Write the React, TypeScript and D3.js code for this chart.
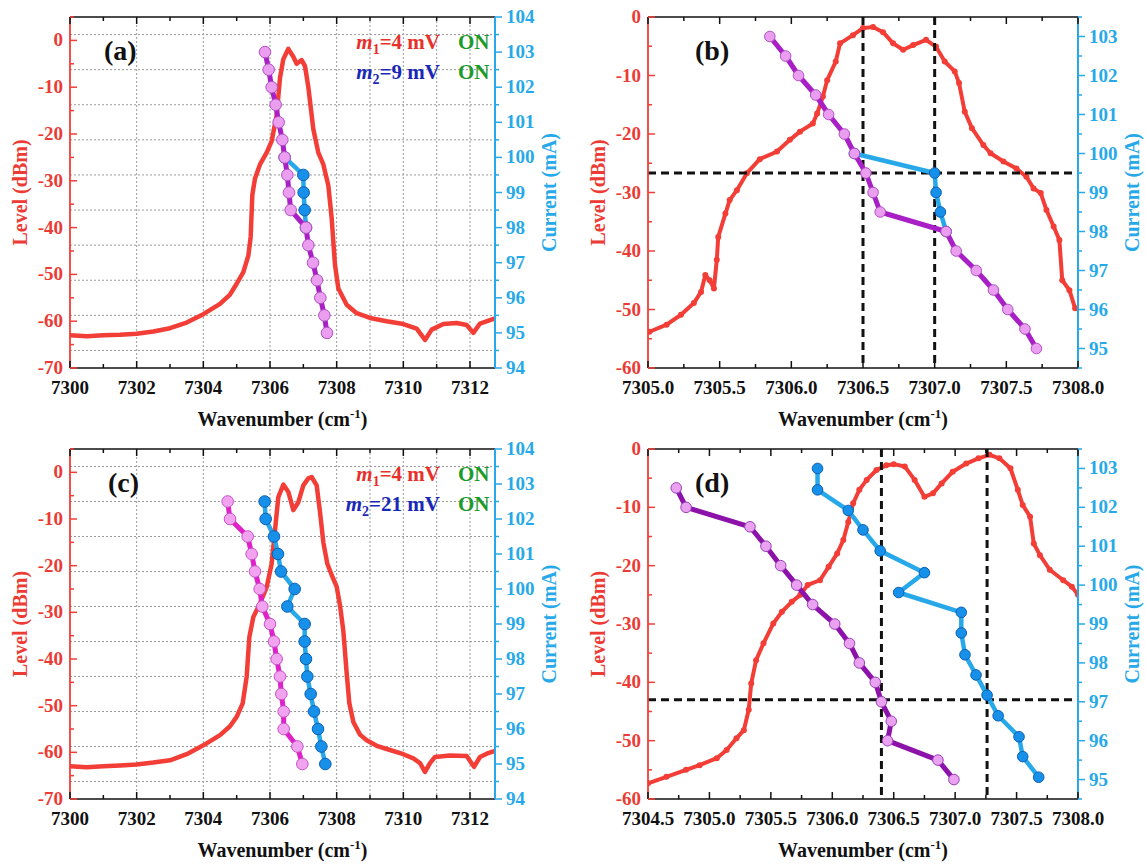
import React from 'react';
import * as d3 from 'd3';

type Pt = [number, number];

// ---------- level curves (wavenumber, dBm) ----------
const levelA: Pt[] = [
  [7300, -63], [7300.5, -63.2], [7301, -63], [7301.5, -62.9], [7302, -62.7], [7302.5, -62.2],
  [7303, -61.5], [7303.5, -60.3], [7304, -58.5], [7304.5, -56.3], [7304.8, -54.3], [7305, -52],
  [7305.2, -49.5], [7305.35, -46], [7305.42, -42], [7305.47, -33], [7305.55, -29.5], [7305.7, -26.5],
  [7305.9, -24], [7306.05, -21.5], [7306.2, -16], [7306.3, -8], [7306.4, -4], [7306.55, -1.8],
  [7306.7, -3.5], [7306.8, -5], [7306.95, -4.2], [7307.05, -5.5], [7307.15, -10], [7307.3, -19],
  [7307.45, -24], [7307.6, -26.5], [7307.75, -31], [7307.85, -38], [7307.95, -48], [7308.05, -53],
  [7308.3, -56.5], [7308.6, -58.3], [7309, -59.3], [7309.5, -60], [7310, -60.6], [7310.4, -61.6],
  [7310.65, -64], [7310.85, -61.8], [7311.2, -60.6], [7311.6, -60.4], [7311.9, -60.8], [7312.1, -62.5],
  [7312.3, -60.5], [7312.75, -59.4],
];

const levelB: Pt[] = [
  [7305.01, -53.8], [7305.13, -52.6], [7305.23, -50.9], [7305.32, -48.9], [7305.37, -47], [7305.4, -44.1],
  [7305.43, -45], [7305.46, -46.4], [7305.48, -41.5], [7305.49, -37.6], [7305.54, -33.6], [7305.57, -31.3],
  [7305.62, -29.6], [7305.69, -26.7], [7305.78, -24.3], [7305.9, -23], [7305.99, -21], [7306.06, -19.6],
  [7306.15, -18.2], [7306.18, -16.5], [7306.22, -13.6], [7306.25, -10.8], [7306.31, -7.6], [7306.34, -4.5],
  [7306.43, -3.1], [7306.5, -1.9], [7306.57, -1.7], [7306.64, -2.6], [7306.71, -4.5], [7306.78, -5.6],
  [7306.85, -4.8], [7306.94, -3.9], [7307.01, -5.1], [7307.07, -7.6], [7307.14, -9.3], [7307.17, -11.3],
  [7307.21, -16.2], [7307.26, -19], [7307.34, -21.9], [7307.39, -23.3], [7307.48, -24.7], [7307.57, -25.9],
  [7307.64, -27.3], [7307.69, -29.3], [7307.74, -30.1], [7307.78, -33], [7307.83, -35.8], [7307.87, -38.1],
  [7307.89, -45], [7307.94, -46.7], [7307.98, -49.8],
];

const levelC: Pt[] = [
  [7300, -63], [7300.5, -63.2], [7301, -63], [7301.5, -62.8], [7302, -62.6], [7302.5, -62.2],
  [7303, -61.7], [7303.5, -60.4], [7304, -58.5], [7304.5, -56.3], [7304.8, -54.4], [7305, -52.4],
  [7305.18, -49.5], [7305.3, -43.8], [7305.38, -35.3], [7305.5, -31], [7305.7, -28.1], [7305.9, -24.6],
  [7306.05, -19.6], [7306.15, -12.4], [7306.25, -5.3], [7306.4, -2.6], [7306.55, -4.2], [7306.7, -8.1],
  [7306.85, -6.4], [7307, -2.8], [7307.15, -1.3], [7307.25, -1], [7307.4, -2.8], [7307.5, -8.5],
  [7307.6, -15], [7307.72, -19.6], [7307.85, -22], [7308, -24.5], [7308.1, -28.5], [7308.2, -34],
  [7308.3, -43], [7308.38, -49.5], [7308.5, -53.5], [7308.7, -56.2], [7308.9, -57.4], [7309.2, -58.6],
  [7309.6, -59.5], [7310, -60.4], [7310.3, -61.3], [7310.5, -62.3], [7310.65, -64.2], [7310.8, -62.3],
  [7310.95, -61], [7311.4, -60.7], [7311.9, -60.8], [7312.12, -63.1], [7312.3, -61], [7312.5, -60.3],
  [7312.75, -59.7],
];

const levelD: Pt[] = [
  [7304.5, -57.3], [7304.65, -56.2], [7304.81, -55], [7304.92, -54.2], [7305.06, -53], [7305.14, -51.6],
  [7305.22, -49.6], [7305.28, -48.2], [7305.32, -44.7], [7305.34, -40.2], [7305.38, -36.2], [7305.44, -33.3],
  [7305.52, -29.9], [7305.59, -27.9], [7305.67, -26.2], [7305.74, -25], [7305.8, -23.3], [7305.9, -22.5],
  [7305.97, -20.2], [7306.04, -17.9], [7306.09, -15.6], [7306.13, -12.5], [7306.17, -9.3], [7306.22, -7],
  [7306.28, -5.3], [7306.36, -3.6], [7306.44, -2.8], [7306.5, -2.6], [7306.59, -3], [7306.67, -5.3],
  [7306.75, -8.2], [7306.82, -7.6], [7306.89, -5.9], [7306.98, -3.9], [7307.09, -2.5], [7307.19, -1.6],
  [7307.28, -1], [7307.36, -1.6], [7307.45, -3.3], [7307.51, -7], [7307.55, -9.6], [7307.61, -11.6],
  [7307.64, -16.2], [7307.69, -18.2], [7307.77, -20.7], [7307.88, -22.5], [7307.95, -23.6], [7308, -25],
];

// ---------- current sweeps (wavenumber at each current step) ----------
const currentAB = [103, 102.5, 102, 101.5, 101, 100.5, 100, 99.5, 99, 98.5, 98, 97.5, 97, 96.5, 96, 95.5, 95];
const waveM1AB = [7305.85, 7305.96, 7306.05, 7306.17, 7306.26, 7306.37, 7306.44, 7306.52, 7306.57,
  7306.62, 7307.08, 7307.15, 7307.29, 7307.41, 7307.51, 7307.63, 7307.71];
const currentM2AB = [100, 99.5, 99, 98.5, 98];
const waveM2AB = [7306.44, 7307.0, 7307.01, 7307.04, 7307.08];

const currentCD = [102.5, 102, 101.5, 101, 100.5, 100, 99.5, 99, 98.5, 98, 97.5, 97, 96.5, 96, 95.5, 95];
const waveM1C = [7304.73, 7304.8, 7305.33, 7305.45, 7305.55, 7305.69, 7305.77, 7306.0, 7306.12, 7306.2,
  7306.3, 7306.34, 7306.41, 7306.41, 7306.82, 7306.97];
const waveM2C = [7305.84, 7305.87, 7306.12, 7306.24, 7306.33, 7306.74, 7306.52, 7307.04, 7307.04, 7307.08,
  7307.12, 7307.22, 7307.32, 7307.44, 7307.54, 7307.66];

const waveM1D = [7304.73, 7304.81, 7305.33, 7305.46, 7305.58, 7305.71, 7305.84, 7306.02, 7306.14, 7306.22,
  7306.35, 7306.4, 7306.48, 7306.45, 7306.86, 7306.99];
const currentM2D = [103, 102.45, 101.92, 101.42, 100.88, 100.32, 99.81, 99.3, 98.77, 98.21, 97.69, 97.17,
  96.64, 96.1, 95.59, 95.06];
const waveM2D = [7305.88, 7305.88, 7306.13, 7306.25, 7306.39, 7306.75, 7306.54, 7307.05, 7307.05,
  7307.08, 7307.17, 7307.26, 7307.35, 7307.52, 7307.55, 7307.68];

// ---------- ticks ----------
const xTicksAC = [7300, 7302, 7304, 7306, 7308, 7310, 7312];
const xTicksB = [7305.0, 7305.5, 7306.0, 7306.5, 7307.0, 7307.5, 7308.0];
const xTicksD = [7304.5, 7305.0, 7305.5, 7306.0, 7306.5, 7307.0, 7307.5, 7308.0];
const levelTicksAC = [-70, -60, -50, -40, -30, -20, -10, 0];
const levelTicksBD = [-60, -50, -40, -30, -20, -10, 0];
const currentTicksAC = [94, 95, 96, 97, 98, 99, 100, 101, 102, 103, 104];
const currentTicksBD = [95, 96, 97, 98, 99, 100, 101, 102, 103];
const gridCurrentAC = [94.5, 95.5, 96.5, 97.5, 98.5, 99.5, 100.5, 101.5, 102.5, 103.5];
const gridWaveAC = [7302, 7304, 7306, 7308, 7309, 7310, 7311, 7312];

// dashed guide lines
const guideWaveB = [7306.5, 7307.0];
const guideCurrentB = 99.5;
const guideWaveD = [7306.4, 7307.26];
const guideCurrentD = 97.05;

const FONT = '"Liberation Serif", "Times New Roman", serif';
const RED = '#f23e37';
const RED_TXT = '#ec3b35';
const SKY = '#27a9e9';
const DOT_BLUE = '#1690e8';
const DOT_BLUE_EDGE = '#0d5fb5';

const zip = (w: number[], c: number[]): Pt[] => w.map((v, i) => [v, c[i]]);

interface Box { left: number; right: number; top: number; bottom: number }

interface PanelProps {
  id: string;
  box: Box;
  xDomain: [number, number];
  xTicks: number[];
  xMinorStep: number;
  xFmt: (v: number) => string;
  levelDomain: [number, number];
  levelTicks: number[];
  curDomain: [number, number];
  curTicks: number[];
  red: Pt[];
  redDots: boolean;
  m1: Pt[];
  m2: Pt[];
  m1Line: string;
  m1Fill: string;
  m1Edge: string;
  r: number;
  grid: boolean;
  guideX?: number[];
  guideI?: number;
  tag: string;
  tagX: number;
  legend?: string;
}

function Panel(p: PanelProps) {
  const { box } = p;
  const x = d3.scaleLinear().domain(p.xDomain).range([box.left, box.right]);
  const yL = d3.scaleLinear().domain(p.levelDomain).range([box.bottom, box.top]);
  const yR = d3.scaleLinear().domain(p.curDomain).range([box.bottom, box.top]);
  const redLine = d3.line<Pt>().x(d => x(d[0])).y(d => yL(d[1]));
  const curLine = d3.line<Pt>().x(d => x(d[0])).y(d => yR(d[1]));

  const xMinor = d3.range(p.xDomain[0], p.xDomain[1] + 1e-6, p.xMinorStep);
  const lMinor = d3.range(Math.ceil(p.levelDomain[0] / 5) * 5, p.levelDomain[1] + 1e-6, 5);
  const cMinor = d3.range(Math.ceil(p.curDomain[0] * 2) / 2, p.curDomain[1] + 1e-6, 0.5);
  const cx = (box.left + box.right) / 2;
  const cy = (box.top + box.bottom) / 2;
  const clip = `clip-${p.id}`;

  return (
    <g fontFamily={FONT} fontWeight="bold">
      <defs>
        <clipPath id={clip}>
          <rect x={box.left} y={box.top} width={box.right - box.left} height={box.bottom - box.top} />
        </clipPath>
      </defs>

      {p.grid && (
        <g stroke="#9a9a9a" strokeWidth={1} strokeDasharray="2,2">
          {gridCurrentAC.map(v => (
            <line key={'gh' + v} x1={box.left} x2={box.right} y1={yR(v)} y2={yR(v)} />
          ))}
          {gridWaveAC.map(v => (
            <line key={'gv' + v} x1={x(v)} x2={x(v)} y1={box.top} y2={box.bottom} />
          ))}
        </g>
      )}

      <g clipPath={`url(#${clip})`}>
        <path d={redLine(p.red) || ''} fill="none" stroke={RED} strokeWidth={p.redDots ? 4 : 4.5} strokeLinejoin="round" />
        {p.redDots && p.red.map((d, i) => (
          <circle key={'rd' + i} cx={x(d[0])} cy={yL(d[1])} r={3} fill={RED} />
        ))}
      </g>

      {p.guideX && (
        <g stroke="#111" strokeWidth={3} strokeDasharray="8,5">
          {p.guideX.map(v => (
            <line key={'gx' + v} x1={x(v)} x2={x(v)} y1={box.top} y2={box.bottom} />
          ))}
          {p.guideI !== undefined && (
            <line x1={box.left} x2={box.right} y1={yR(p.guideI)} y2={yR(p.guideI)} />
          )}
        </g>
      )}

      <path d={curLine(p.m2) || ''} fill="none" stroke={SKY} strokeWidth={4.5} strokeLinejoin="round" />
      {p.m2.map((d, i) => (
        <circle key={'m2' + i} cx={x(d[0])} cy={yR(d[1])} r={p.r} fill={DOT_BLUE} stroke={DOT_BLUE_EDGE} strokeWidth={1} />
      ))}
      <path d={curLine(p.m1) || ''} fill="none" stroke={p.m1Line} strokeWidth={5} strokeLinejoin="round" />
      {p.m1.map((d, i) => (
        <circle key={'m1' + i} cx={x(d[0])} cy={yR(d[1])} r={p.r} fill={p.m1Fill} stroke={p.m1Edge} strokeWidth={1} />
      ))}

      {/* frame */}
      <line x1={box.left} x2={box.right} y1={box.top} y2={box.top} stroke="#111" strokeWidth={1.6} />
      <line x1={box.left} x2={box.right} y1={box.bottom} y2={box.bottom} stroke="#111" strokeWidth={1.6} />
      <line x1={box.left} x2={box.left} y1={box.top} y2={box.bottom} stroke={RED} strokeWidth={1.8} />
      <line x1={box.right} x2={box.right} y1={box.top} y2={box.bottom} stroke={SKY} strokeWidth={2} />

      {/* x ticks (inward, top and bottom) */}
      <g stroke="#111" strokeWidth={1.5}>
        {xMinor.map(v => {
          const major = p.xTicks.some(t => Math.abs(t - v) < 1e-6);
          const len = major ? 7 : 4;
          return (
            <g key={'xt' + v}>
              <line x1={x(v)} x2={x(v)} y1={box.bottom} y2={box.bottom - len} />
              <line x1={x(v)} x2={x(v)} y1={box.top} y2={box.top + len} />
            </g>
          );
        })}
      </g>
      {p.xTicks.map(v => (
        <text key={'xl' + v} x={x(v)} y={box.bottom + 26} textAnchor="middle" fontSize={19} fill="#111">
          {p.xFmt(v)}
        </text>
      ))}

      {/* left level axis */}
      <g stroke={RED} strokeWidth={1.5}>
        {lMinor.map(v => {
          const major = p.levelTicks.includes(v);
          return <line key={'lt' + v} x1={box.left} x2={box.left + (major ? 7 : 4)} y1={yL(v)} y2={yL(v)} />;
        })}
      </g>
      {p.levelTicks.map(v => (
        <text key={'ll' + v} x={box.left - 7} y={yL(v) + 6} textAnchor="end" fontSize={19} fill={RED_TXT}>
          {v}
        </text>
      ))}

      {/* right current axis */}
      <g stroke={SKY} strokeWidth={1.5}>
        {cMinor.map(v => {
          const major = p.curTicks.includes(v);
          return <line key={'ct' + v} x1={box.right} x2={box.right + (major ? 7 : 4)} y1={yR(v)} y2={yR(v)} />;
        })}
      </g>
      {p.curTicks.map(v => (
        <text key={'cl' + v} x={box.right + 11} y={yR(v) + 6} fontSize={19} fill={SKY}>
          {v}
        </text>
      ))}

      {/* axis titles */}
      <text transform={`translate(${box.left - 43},${cy}) rotate(-90)`} textAnchor="middle" fontSize={20} fill={RED_TXT}>
        Level (dBm)
      </text>
      <text transform={`translate(${box.right + 61},${cy}) rotate(-90)`} textAnchor="middle" fontSize={20} fill={SKY}>
        Current (mA)
      </text>
      <text x={cx} y={box.bottom + 58} textAnchor="middle" fontSize={20} fill="#111">
        Wavenumber (cm<tspan dy={-8} fontSize={13}>-1</tspan><tspan dy={8}>)</tspan>
      </text>

      <text x={p.tagX} y={box.top + 43} fontSize={28} fill="#111">{p.tag}</text>

      {p.legend && (
        <g fontSize={21}>
          <text x={440} y={box.top + 32} textAnchor="end" fill="#e8302a">
            <tspan fontStyle="italic">m</tspan><tspan dy={5} fontSize={14}>1</tspan><tspan dy={-5}>=4 mV</tspan>
          </text>
          <text x={458} y={box.top + 32} fill="#1c9a2a">ON</text>
          <text x={440} y={box.top + 62} textAnchor="end" fill="#1a28b8">
            <tspan fontStyle="italic">m</tspan><tspan dy={5} fontSize={14}>2</tspan><tspan dy={-5}>={p.legend} mV</tspan>
          </text>
          <text x={458} y={box.top + 62} fill="#1c9a2a">ON</text>
        </g>
      )}
    </g>
  );
}

const fmtInt = (v: number) => String(v);
const fmt1 = (v: number) => v.toFixed(1);

export default function App() {
  const m1AB = zip(waveM1AB, currentAB);
  const m2AB = zip(waveM2AB, currentM2AB);
  return (
    <svg width={1145} height={866} style={{ position: 'absolute', left: 0, top: 0, background: '#fff' }}>
      <Panel
        id="a" box={{ left: 70, right: 495, top: 17, bottom: 368 }}
        xDomain={[7300, 7312.75]} xTicks={xTicksAC} xMinorStep={1} xFmt={fmtInt}
        levelDomain={[-70, 5]} levelTicks={levelTicksAC}
        curDomain={[94, 104]} curTicks={currentTicksAC}
        red={levelA} redDots={false}
        m1={m1AB} m2={m2AB} m1Line="#a91fc6" m1Fill="#eb9eef" m1Edge="#b150c6" r={5.8}
        grid tag="(a)" tagX={104} legend="9"
      />
      <Panel
        id="b" box={{ left: 648, right: 1078, top: 17, bottom: 368 }}
        xDomain={[7305, 7308]} xTicks={xTicksB} xMinorStep={0.25} xFmt={fmt1}
        levelDomain={[-60, 0]} levelTicks={levelTicksBD}
        curDomain={[94.5, 103.5]} curTicks={currentTicksBD}
        red={levelB} redDots
        m1={m1AB} m2={m2AB} m1Line="#a91fc6" m1Fill="#eb9eef" m1Edge="#b150c6" r={5.3}
        grid={false} guideX={guideWaveB} guideI={guideCurrentB} tag="(b)" tagX={695}
      />
      <Panel
        id="c" box={{ left: 70, right: 495, top: 449, bottom: 799 }}
        xDomain={[7300, 7312.75]} xTicks={xTicksAC} xMinorStep={1} xFmt={fmtInt}
        levelDomain={[-70, 5]} levelTicks={levelTicksAC}
        curDomain={[94, 104]} curTicks={currentTicksAC}
        red={levelC} redDots={false}
        m1={zip(waveM1C, currentCD)} m2={zip(waveM2C, currentCD)}
        m1Line="#e021c9" m1Fill="#f2a3f0" m1Edge="#c850c8" r={5.8}
        grid tag="(c)" tagX={108} legend="21"
      />
      <Panel
        id="d" box={{ left: 648, right: 1078, top: 449, bottom: 799 }}
        xDomain={[7304.5, 7308]} xTicks={xTicksD} xMinorStep={0.25} xFmt={fmt1}
        levelDomain={[-60, 0]} levelTicks={levelTicksBD}
        curDomain={[94.5, 103.5]} curTicks={currentTicksBD}
        red={levelD} redDots
        m1={zip(waveM1D, currentCD)} m2={zip(waveM2D, currentM2D)}
        m1Line="#8c12aa" m1Fill="#eaa2f0" m1Edge="#9a40b8" r={5.3}
        grid={false} guideX={guideWaveD} guideI={guideCurrentD} tag="(d)" tagX={695}
      />
    </svg>
  );
}
